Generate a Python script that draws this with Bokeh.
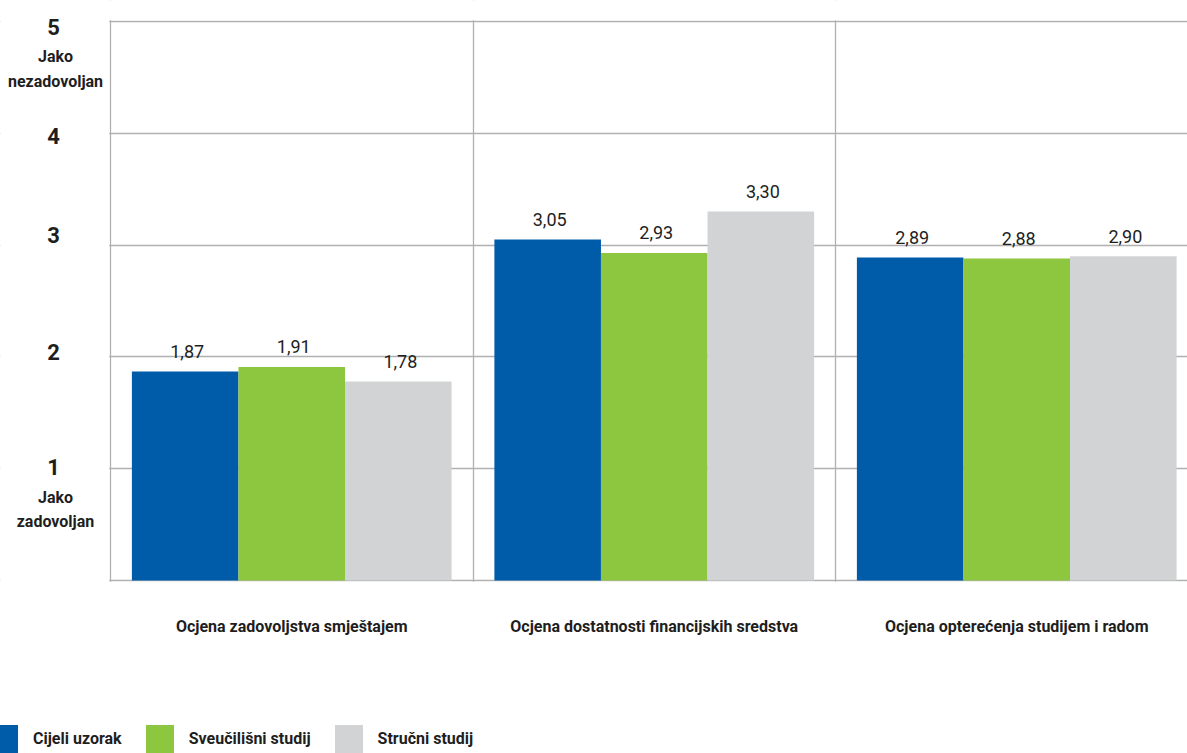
from bokeh.plotting import figure
from bokeh.models import Range1d, FixedTicker, Legend, LegendItem, ColumnDataSource, BoxAnnotation
from bokeh.core.properties import value
from bokeh.embed import file_html
from bokeh.resources import INLINE

# ---- data ----
categories = ["Ocjena zadovoljstva smještajem",
              "Ocjena dostatnosti financijskih sredstva",
              "Ocjena opterećenja studijem i radom"]
series_names = ["Cijeli uzorak", "Sveučilišni studij", "Stručni studij"]
cijeli_uzorak = [1.87, 3.05, 2.89]
sveucilisni_studij = [1.91, 2.93, 2.88]
strucni_studij = [1.78, 3.30, 2.90]
y_ticks = [1, 2, 3, 4, 5]
y_tick_labels = ["1", "2", "3", "4", "5"]
top_note = ["Jako", "nezadovoljan"]      # under tick 5
bottom_note = ["Jako", "zadovoljan"]     # under tick 1

# ---- style / layout ----
colors = ["#005CA9", "#8DC63F", "#D1D3D4"]
FONT = "Roboto"
TXT = "#1e1e1e"
GRID = "#b0b0b0"

W, H = 1187, 753
X0_PX, Y0_PX, Y5_PX = 110, 580, 21       # pixel of x=0, y=0, y=5
GROUP_PX = 362.5
PPU = (Y0_PX - Y5_PX) / 5.0
bar_w = 0.294
offsets = [-bar_w, 0.0, bar_w]
tick_label_dy = [-2, -5, -10, 3, 5]       # baseline offsets (px) of tick labels 1..5
note_dy = {5: (34.5, 60), 1: (29, 53)}

p = figure(width=W, height=H, output_backend="svg", toolbar_location=None, title=None,
           x_axis_location=None, y_axis_location=None,
           x_range=Range1d(-X0_PX / GROUP_PX, (W - X0_PX) / GROUP_PX),
           y_range=Range1d(-(H - Y0_PX) / PPU, 5 + Y5_PX / PPU),
           min_border=0)
p.outline_line_color = None
p.background_fill_color = "white"
p.border_fill_color = "white"

# grids (category separators + value lines)
p.xgrid.ticker = FixedTicker(ticks=[0, 1, 2])
p.ygrid.ticker = FixedTicker(ticks=[0] + y_ticks)
for g in (p.xgrid, p.ygrid):
    g.grid_line_color = GRID
    g.grid_line_width = 1.3

# white masks so the grid only shows inside the plotting box
for kw in (dict(right=-1.2 / GROUP_PX), dict(bottom=5 + 1.2 / PPU), dict(top=-1.2 / PPU)):
    p.add_layout(BoxAnnotation(fill_color="white", fill_alpha=1, line_alpha=0,
                               level="underlay", **kw))

# bars + value labels
renderers = []
for vals, off, col in zip([cijeli_uzorak, sveucilisni_studij, strucni_studij], offsets, colors):
    src = ColumnDataSource(dict(
        x=[i + 0.5 + off for i in range(len(categories))],
        top=vals,
        label=[f"{v:.2f}".replace(".", ",") for v in vals],
    ))
    r = p.vbar(x="x", top="top", width=bar_w, source=src, fill_color=col, line_color=None)
    renderers.append(r)
    p.text(x="x", y="top", text="label", source=src, text_align="center",
           text_baseline="alphabetic", x_offset=2, y_offset=-20, text_font=value(FONT),
           text_font_size="18px", text_color=TXT)

# category labels
cat_src = ColumnDataSource(dict(x=[i + 0.5 for i in range(len(categories))],
                                y=[0] * len(categories), text=categories))
p.text(x="x", y="y", text="text", source=cat_src, text_align="center",
       text_baseline="alphabetic", y_offset=46, text_font=value(FONT),
       text_font_style="bold", text_font_size="16px", text_color=TXT)

# y tick labels
tick_src = ColumnDataSource(dict(x=[0] * len(y_ticks), y=y_ticks, text=y_tick_labels,
                                 dy=tick_label_dy))
p.text(x="x", y="y", text="text", source=tick_src, text_align="center",
       text_baseline="alphabetic", x_offset=-57, y_offset="dy", text_font=value(FONT),
       text_font_style="bold", text_font_size="22px", text_color=TXT)

note_x, note_y, note_t, note_o = [], [], [], []
for tick, lines in ((5, top_note), (1, bottom_note)):
    for line, o in zip(lines, note_dy[tick]):
        note_x.append(0); note_y.append(tick); note_t.append(line); note_o.append(o)
note_src = ColumnDataSource(dict(x=note_x, y=note_y, text=note_t, dy=note_o))
p.text(x="x", y="y", text="text", source=note_src, text_align="center",
       text_baseline="alphabetic", x_offset=-55, y_offset="dy", text_font=value(FONT),
       text_font_style="bold", text_font_size="16px", text_color=TXT)

# legend (vbar legend glyphs are inset by 10% of the glyph box)
legend = Legend(items=[LegendItem(label=n, renderers=[r]) for n, r in zip(series_names, renderers)],
                location=(-14, -3), orientation="horizontal",
                glyph_width=35, glyph_height=35, label_standoff=12, spacing=20,
                padding=0, margin=0, border_line_color=None, background_fill_alpha=0,
                label_text_font=FONT, label_text_font_style="bold",
                label_text_font_size="16px", label_text_color=TXT)
p.add_layout(legend)

open("out.html", "w").write(file_html(p, INLINE))
